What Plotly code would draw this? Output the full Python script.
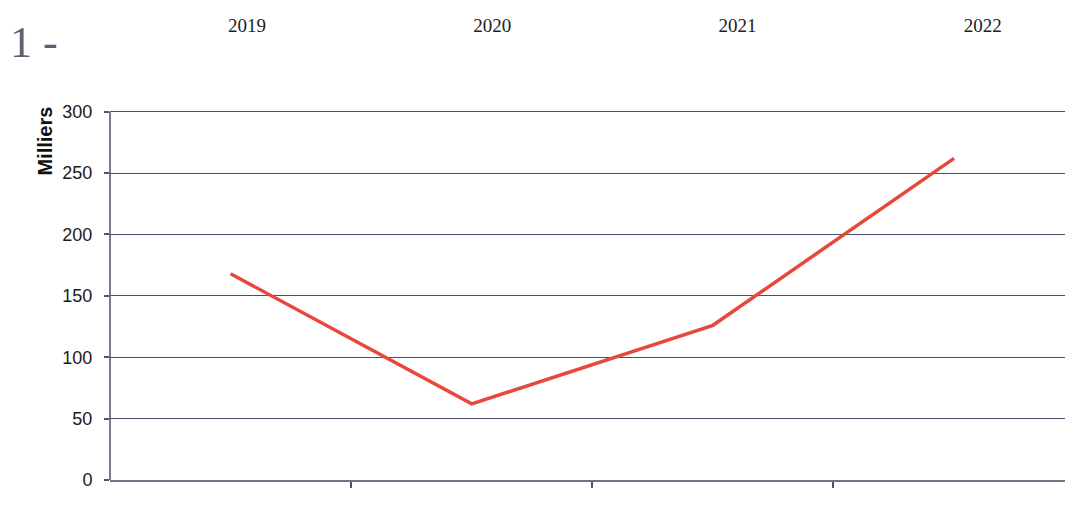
import plotly.graph_objects as go

years = ["2019", "2020", "2021", "2022"]
values_milliers = [168, 62, 126, 262]
y_ticks = [0, 50, 100, 150, 200, 250, 300]

fig = go.Figure()
fig.add_trace(go.Scatter(
    x=[0, 1, 2, 3], y=values_milliers, mode="lines",
    line=dict(color="#e8483a", width=3.5), showlegend=False, hoverinfo="skip"))
# invisible trace for the top year labels axis
fig.add_trace(go.Scatter(
    x=[0, 1, 2, 3], y=values_milliers, mode="lines", xaxis="x2",
    line=dict(color="rgba(0,0,0,0)"), showlegend=False, hoverinfo="skip"))

fig.update_layout(
    width=1065, height=527,
    margin=dict(l=110, r=0, t=108, b=47),
    paper_bgcolor="white", plot_bgcolor="white",
    xaxis=dict(
        range=[-0.5, 3.46], tickvals=[0.5, 1.5, 2.5], ticktext=["", "", ""],
        ticks="outside", ticklen=6, tickcolor="#555", tickwidth=1.5,
        showgrid=False, zeroline=False, showline=True, linecolor="#6c7488", linewidth=1.5,
    ),
    xaxis2=dict(
        overlaying="x", side="top", range=[-0.5585, 3.335],
        tickvals=[0, 1, 2, 3], ticktext=years, ticks="", showgrid=False,
        zeroline=False, showline=False, ticklabelstandoff=71,
        tickfont=dict(family="Liberation Serif", size=19, color="#222"),
    ),
    yaxis=dict(
        range=[0, 303], tickvals=y_ticks, ticks="outside", ticklen=5,
        tickcolor="#555", tickwidth=1.5, showline=False,
        showgrid=True, gridcolor="#46516c", gridwidth=1.4,
        zeroline=False, ticklabelstandoff=8,
        tickfont=dict(family="Liberation Sans", size=18, color="#1a1a1a"),
    ),
    shapes=[dict(type="line", xref="paper", yref="y", x0=0, x1=0, y0=0, y1=300,
                 line=dict(color="#4a5068", width=1.5))],
    annotations=[
        dict(text="<b>Milliers</b>", textangle=-90, xref="paper", yref="paper",
             x=-0.068, y=0.91, xanchor="center", yanchor="middle", showarrow=False,
             font=dict(family="Liberation Sans", size=20, color="#111")),
        dict(text="1 -", xref="paper", yref="paper", x=-0.107, y=1.175,
             xanchor="left", yanchor="middle", showarrow=False,
             font=dict(family="Liberation Serif", size=44, color="#5a6272")),
    ],
)
fig.write_html("out.html")
